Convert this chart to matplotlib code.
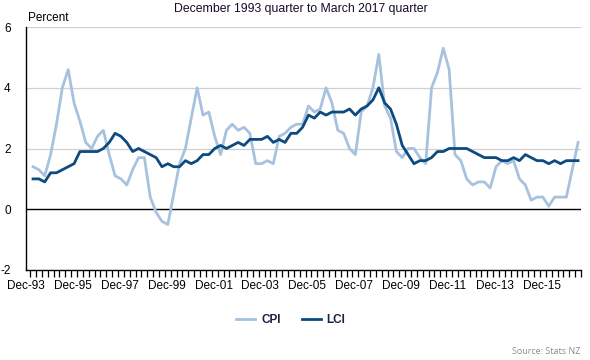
import numpy as np
import matplotlib
matplotlib.use("Agg")
import matplotlib.pyplot as plt
from matplotlib.ticker import FixedLocator, NullFormatter

# Annual % change, Dec 1993 quarter to Mar 2017 quarter
cpi = [1.4, 1.3, 1.1, 1.8, 2.8, 4.0, 4.6, 3.5, 2.9, 2.2, 2.0, 2.4, 2.6, 1.8, 1.1, 1.0,
       0.8, 1.3, 1.7, 1.7, 0.4, -0.1, -0.4, -0.5, 0.5, 1.5, 2.0, 3.0, 4.0, 3.1, 3.2, 2.4,
       1.8, 2.6, 2.8, 2.6, 2.7, 2.5, 1.5, 1.5, 1.6, 1.5, 2.4, 2.5, 2.7, 2.8, 2.8, 3.4,
       3.2, 3.3, 4.0, 3.5, 2.6, 2.5, 2.0, 1.8, 3.2, 3.4, 4.0, 5.1, 3.4, 3.0, 1.9, 1.7,
       2.0, 2.0, 1.7, 1.5, 4.0, 4.5, 5.3, 4.6, 1.8, 1.6, 1.0, 0.8, 0.9, 0.9, 0.7, 1.4,
       1.6, 1.5, 1.6, 1.0, 0.8, 0.3, 0.4, 0.4, 0.1, 0.4, 0.4, 0.4, 1.3, 2.2]
lci = [1.0, 1.0, 0.9, 1.2, 1.2, 1.3, 1.4, 1.5, 1.9, 1.9, 1.9, 1.9, 2.0, 2.2, 2.5, 2.4,
       2.2, 1.9, 2.0, 1.9, 1.8, 1.7, 1.4, 1.5, 1.4, 1.4, 1.6, 1.5, 1.6, 1.8, 1.8, 2.0,
       2.1, 2.0, 2.1, 2.2, 2.1, 2.3, 2.3, 2.3, 2.4, 2.2, 2.3, 2.2, 2.5, 2.5, 2.7, 3.1,
       3.0, 3.2, 3.1, 3.2, 3.2, 3.2, 3.3, 3.1, 3.3, 3.4, 3.6, 4.0, 3.5, 3.3, 2.8, 2.1,
       1.8, 1.5, 1.6, 1.6, 1.7, 1.9, 1.9, 2.0, 2.0, 2.0, 2.0, 1.9, 1.8, 1.7, 1.7, 1.7,
       1.6, 1.6, 1.7, 1.6, 1.8, 1.7, 1.6, 1.6, 1.5, 1.6, 1.5, 1.6, 1.6, 1.6]

tick_labels = ["Dec-93", "Dec-95", "Dec-97", "Dec-99", "Dec-01", "Dec-03",
               "Dec-05", "Dec-07", "Dec-09", "Dec-11", "Dec-13", "Dec-15"]
y_ticks = [-2, 0, 2, 4, 6]

plt.rcParams['font.family'] = ['Liberation Sans', 'DejaVu Sans']

n = len(cpi)
x = np.arange(n)

fig = plt.figure(figsize=(5.9, 3.6), dpi=100)
ax = fig.add_axes([26/590, 1 - 270/360, 555/590, 243/360])

ax.plot(x, cpi, color="#a7c2df", lw=2.0, label="CPI", zorder=3)
ax.plot(x, lci, color="#0d4a80", lw=2.0, label="LCI", zorder=4)

ax.set_xlim(-0.5, n - 0.5)
ax.set_ylim(-2, 6)
ax.set_yticks(y_ticks)
ax.set_yticklabels([str(v) for v in y_ticks])
ax.tick_params(axis="y", length=0, pad=11, labelsize=8.5)
for v in y_ticks[2:]:
    ax.axhline(v, color="#d0d0d0", lw=0.9, zorder=1)
ax.axhline(0, color="black", lw=1.0, zorder=2)

# quarter ticks on category boundaries, labels every 2 years
ax.xaxis.set_minor_locator(FixedLocator(np.arange(n + 1) - 0.5))
ax.xaxis.set_minor_formatter(NullFormatter())
ax.set_xticks(np.arange(0, n, 8)[:len(tick_labels)] - 1.2)
ax.set_xticklabels(tick_labels)
ax.tick_params(axis="x", which="major", length=0, pad=7, labelsize=8.5)
ax.tick_params(axis="x", which="minor", length=5, width=0.9, color="black", direction="out")

for s in ["top", "right"]:
    ax.spines[s].set_visible(False)
for s in ["left", "bottom"]:
    ax.spines[s].set_color("black")
    ax.spines[s].set_linewidth(1.0)

fig.text(0.51, 1 - 9/360, "December 1993 quarter to March 2017 quarter",
         ha="center", va="center", fontsize=8.8, color="#1a0a2a")
fig.text(28/590, 1 - 18/360, "Percent", ha="left", va="center", fontsize=8.5)

leg = fig.legend(loc="center", bbox_to_anchor=(291/590, 1 - 320/360), ncol=2,
                 frameon=False, handlelength=1.6, columnspacing=1.8, handletextpad=0.5,
                 prop={"weight": "bold", "size": 8.5})
for t in leg.get_texts():
    t.set_color("#1c2340")

fig.text(581/590, 1 - 352/360, "Source: Stats NZ", ha="right", va="center",
         fontsize=6.5, color="#8c8c8c", family=["Open Sans", "DejaVu Sans"])

fig.savefig("out.png", dpi=100)
